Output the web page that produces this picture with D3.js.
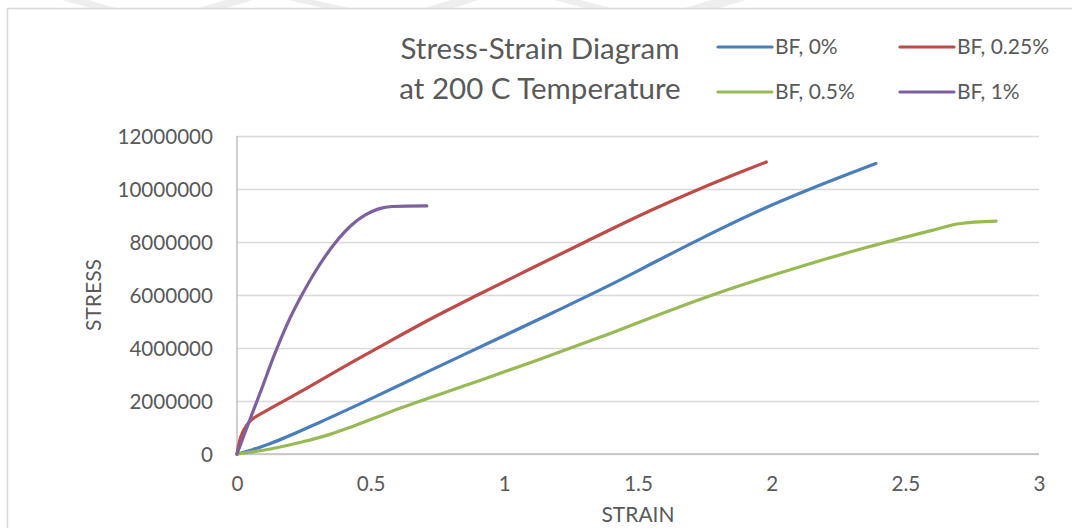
<!DOCTYPE html>
<html>
<head>
<meta charset="utf-8">
<script src="https://cdn.jsdelivr.net/npm/d3@7"></script>
<style>
  body { margin: 0; background: #fff; }
  svg text { font-family: Lato, "Open Sans", sans-serif; fill: #595959; }
</style>
</head>
<body>
<svg id="chart" width="1072" height="528"></svg>
<script>
// values
const seriesNames = ["BF, 0%", "BF, 0.25%", "BF, 0.5%", "BF, 1%"];
const seriesColors = ["#4a7ebb", "#be4b48", "#98b954", "#7d60a0"];

const strain0 = [0, 0.06, 0.125, 0.31, 0.5, 0.71, 0.935, 1.185, 1.43, 1.545, 1.73, 1.98, 2.17, 2.39];
const stress0 = [0, 170000, 400000, 1200000, 2080000, 3090000, 4160000, 5350000, 6550000, 7150000, 8100000, 9300000, 10100000, 10960000];

const strain025 = [0, 0.01, 0.025, 0.05, 0.09, 0.125, 0.25, 0.375, 0.535, 0.71, 0.9, 1.1, 1.31, 1.545, 1.73, 1.88, 1.98];
const stress025 = [0, 500000, 900000, 1250000, 1520000, 1720000, 2420000, 3150000, 4050000, 5020000, 6000000, 7000000, 8040000, 9180000, 10000000, 10620000, 11020000];

const strain05 = [0, 0.125, 0.25, 0.35, 0.435, 0.62, 0.87, 1.12, 1.37, 1.61, 1.86, 2.1, 2.36, 2.6, 2.7, 2.84];
const stress05 = [0, 190000, 470000, 750000, 1050000, 1760000, 2640000, 3530000, 4450000, 5380000, 6280000, 7050000, 7810000, 8440000, 8690000, 8790000];

const strain1 = [0, 0.037, 0.09, 0.14, 0.19, 0.24, 0.3, 0.37, 0.43, 0.48, 0.53, 0.58, 0.71];
const stress1 = [0, 1000000, 2400000, 3750000, 4950000, 5950000, 7000000, 8000000, 8650000, 9020000, 9250000, 9340000, 9360000];

const xTicks = [0, 0.5, 1, 1.5, 2, 2.5, 3];
const yTicks = [0, 2000000, 4000000, 6000000, 8000000, 10000000, 12000000];

const series = [
  [strain0, stress0],
  [strain025, stress025],
  [strain05, stress05],
  [strain1, stress1]
].map(([xs, ys], i) => ({
  name: seriesNames[i],
  color: seriesColors[i],
  values: xs.map((x, j) => ({ x: x, y: ys[j] }))
}));

const svg = d3.select("#chart");

// faint watermark chevrons along the top edge
const marks = [[62, 116], [199, 253], [288, 349], [425, 479], [555, 610], [685, 746]];
svg.selectAll("polygon.wm")
  .data(marks)
  .enter()
  .append("polygon")
  .attr("class", "wm")
  .attr("points", (d, i) => i % 2 == 0
    ? `${d[0]},0 ${d[0] + 26},0 ${d[1]},8 ${d[1] - 26},8`
    : `${d[0] + 26},0 ${d[1]},0 ${d[1] - 26},8 ${d[0]},8`)
  .style("fill", "#eeeeee");

// chart border
svg.append("rect")
  .attr("x", 7.5)
  .attr("y", 8.5)
  .attr("width", 1080)
  .attr("height", 540)
  .style("fill", "#fff")
  .style("stroke", "#d9d9d9")
  .style("stroke-width", 1.5);

const margin = { top: 136, right: 33, bottom: 74, left: 237 };
const width = 1072;
const height = 528;

const x = d3.scaleLinear()
  .domain([0, 3])
  .range([margin.left, width - margin.right]);

const y = d3.scaleLinear()
  .domain([0, 12000000])
  .range([height - margin.bottom, margin.top]);

// gridlines
svg.append("g")
  .attr("class", "grid")
  .attr("transform", `translate(${margin.left},0)`)
  .call(d3.axisLeft(y).tickValues(yTicks).tickSize(-(x(3) - x(0))).tickFormat(""))
  .call(g => g.select(".domain").remove())
  .call(g => g.selectAll(".tick line").style("stroke", "#d9d9d9").style("stroke-width", 1.5));

// y axis labels
svg.append("g")
  .attr("transform", `translate(${margin.left - 24},0)`)
  .call(d3.axisLeft(y).tickValues(yTicks).tickSize(0).tickFormat(d3.format("d")))
  .call(g => g.select(".domain").remove())
  .call(g => g.selectAll("text")
    .style("font-size", "20.6px")
    .attr("x", 0)
    .attr("dy", "0.35em"));

// x axis labels
svg.append("g")
  .attr("transform", `translate(0,${y(0)})`)
  .call(d3.axisBottom(x).tickValues(xTicks).tickSize(0).tickFormat(d => d))
  .call(g => g.select(".domain").remove())
  .call(g => g.selectAll("text")
    .style("font-size", "20.6px")
    .attr("y", 22)
    .attr("dy", "0.71em"));

// axis lines
svg.append("line")
  .attr("x1", x(0)).attr("x2", x(0))
  .attr("y1", y(12000000)).attr("y2", y(0))
  .style("stroke", "#bfbfbf").style("stroke-width", 1.5);
svg.append("line")
  .attr("x1", x(0)).attr("x2", x(3))
  .attr("y1", y(0)).attr("y2", y(0))
  .style("stroke", "#bfbfbf").style("stroke-width", 1.5);

// axis titles
svg.append("text")
  .attr("x", (x(0) + x(3)) / 2)
  .attr("y", 522)
  .style("text-anchor", "middle")
  .style("font-size", "21px")
  .text("STRAIN");

svg.append("text")
  .attr("transform", `translate(101,${(y(0) + y(12000000)) / 2}) rotate(-90)`)
  .style("text-anchor", "middle")
  .style("font-size", "21px")
  .text("STRESS");

// curves
const line = d3.line()
  .x(d => x(d.x))
  .y(d => y(d.y))
  .curve(d3.curveMonotoneX);

svg.selectAll("path.series")
  .data(series)
  .enter()
  .append("path")
  .attr("class", "series")
  .attr("d", d => line(d.values))
  .style("fill", "none")
  .style("stroke", d => d.color)
  .style("stroke-width", 3.2)
  .style("stroke-linecap", "round")
  .style("stroke-linejoin", "round");

// title
const title = svg.append("text")
  .attr("x", 540)
  .style("text-anchor", "middle")
  .style("font-size", "29.5px");
title.append("tspan").attr("x", 540).attr("y", 59).text("Stress-Strain Diagram");
title.append("tspan").attr("x", 540).attr("y", 99).text("at 200 C Temperature");

// legend
const legendPos = [[718, 47], [900, 47], [718, 92], [900, 92]];
const legend = svg.selectAll("g.legend")
  .data(series)
  .enter()
  .append("g")
  .attr("class", "legend")
  .attr("transform", (d, i) => `translate(${legendPos[i][0]},${legendPos[i][1]})`);

legend.append("line")
  .attr("x1", 0).attr("x2", 54)
  .style("stroke", d => d.color)
  .style("stroke-width", 3.2)
  .style("stroke-linecap", "round");

legend.append("text")
  .attr("x", 57)
  .attr("dy", "0.35em")
  .style("font-size", "21px")
  .text(d => d.name);
</script>
</body>
</html>
